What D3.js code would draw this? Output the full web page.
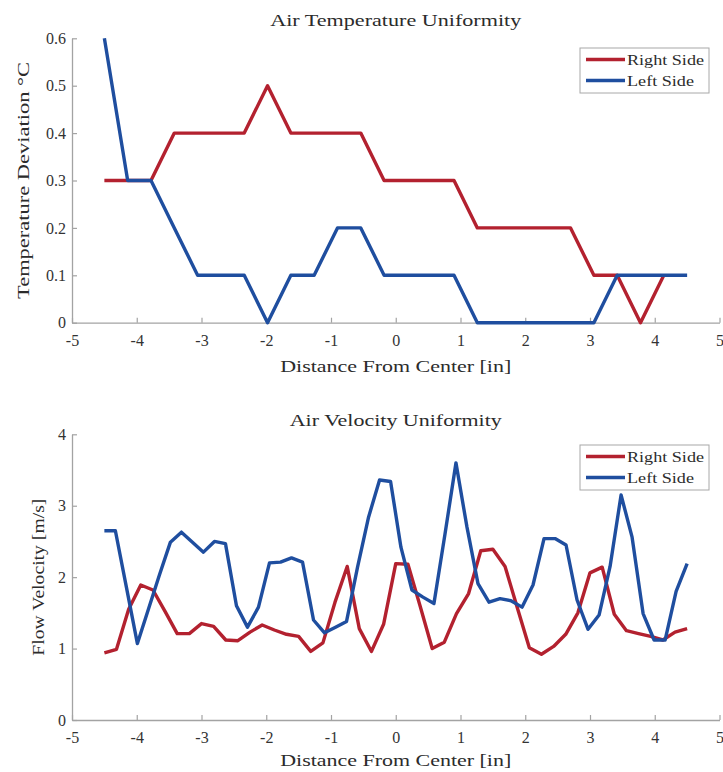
<!DOCTYPE html>
<html>
<head>
<meta charset="utf-8">
<script src="https://cdn.jsdelivr.net/npm/d3@7"></script>
<style>
  body { margin: 0; background: #fff; }
  text { font-family: "Liberation Serif", "Times New Roman", serif; fill: #2b2b2b; }
</style>
</head>
<body>
<svg id="chart" width="723" height="772"></svg>
<script>
// ---- data ----
const seriesNames = ["Right Side", "Left Side"];
const seriesColors = ["#b3212f", "#1f4e9f"];

// temperature survey positions [in]
const tempX = [-4.5, -4.14, -3.78, -3.42, -3.06, -2.7, -2.34, -1.98, -1.62, -1.26, -0.9, -0.54, -0.18,
               0.18, 0.54, 0.9, 1.26, 1.62, 1.98, 2.34, 2.7, 3.06, 3.42, 3.78, 4.14, 4.5];
// temperature deviation [°C]
const tempRight = [0.3, 0.3, 0.3, 0.4, 0.4, 0.4, 0.4, 0.5, 0.4, 0.4, 0.4, 0.4, 0.3,
                   0.3, 0.3, 0.3, 0.2, 0.2, 0.2, 0.2, 0.2, 0.1, 0.1, 0, 0.1];
const tempLeft  = [0.6, 0.3, 0.3, 0.2, 0.1, 0.1, 0.1, 0, 0.1, 0.1, 0.2, 0.2, 0.1,
                   0.1, 0.1, 0.1, 0, 0, 0, 0, 0, 0, 0.1, 0.1, 0.1, 0.1];

// velocity survey positions [in], right side
const velRightX = [-4.5, -4.313, -4.125, -3.938, -3.75, -3.563, -3.375, -3.188, -3, -2.813, -2.625, -2.438,
                   -2.25, -2.063, -1.875, -1.688, -1.5, -1.313, -1.125, -0.938, -0.75, -0.563, -0.375, -0.188,
                   0, 0.188, 0.375, 0.563, 0.75, 0.938, 1.125, 1.313, 1.5, 1.688, 1.875, 2.063,
                   2.25, 2.438, 2.625, 2.813, 3, 3.188, 3.375, 3.563, 3.75, 3.938, 4.125, 4.313, 4.5];
// flow velocity [m/s], right side
const velRight = [0.94, 0.99, 1.55, 1.89, 1.82, 1.52, 1.21, 1.21, 1.35, 1.31, 1.12, 1.11,
                  1.23, 1.33, 1.26, 1.20, 1.17, 0.96, 1.08, 1.65, 2.15, 1.28, 0.96, 1.34,
                  2.19, 2.18, 1.60, 1.00, 1.09, 1.49, 1.77, 2.37, 2.39, 2.15, 1.58, 1.01,
                  0.92, 1.03, 1.20, 1.50, 2.06, 2.14, 1.48, 1.25, 1.21, 1.17, 1.12, 1.23, 1.28];

// velocity survey positions [in], left side
const velLeftX = [-4.5, -4.33, -4.16, -3.99, -3.82, -3.65, -3.48, -3.31, -3.14, -2.97, -2.8, -2.63, -2.46,
                  -2.29, -2.12, -1.95, -1.78, -1.61, -1.44, -1.27, -1.1, -0.93, -0.76, -0.59, -0.42, -0.25,
                  -0.08, 0.08, 0.25, 0.42, 0.59, 0.76, 0.93, 1.1, 1.27, 1.44, 1.61, 1.78, 1.95,
                  2.12, 2.29, 2.46, 2.63, 2.8, 2.97, 3.14, 3.31, 3.48, 3.65, 3.82, 3.99, 4.16, 4.33, 4.5];
// flow velocity [m/s], left side
const velLeft = [2.65, 2.65, 1.86, 1.07, 1.55, 2.03, 2.49, 2.63, 2.49, 2.35, 2.50, 2.47, 1.60,
                 1.30, 1.58, 2.20, 2.21, 2.27, 2.21, 1.40, 1.22, 1.30, 1.38, 2.14, 2.84, 3.36,
                 3.34, 2.42, 1.82, 1.72, 1.63, 2.60, 3.60, 2.70, 1.91, 1.65, 1.70, 1.67, 1.58,
                 1.89, 2.54, 2.54, 2.45, 1.68, 1.27, 1.47, 2.15, 3.15, 2.56, 1.49, 1.12, 1.12, 1.80, 2.19];

const xTicks = [-5, -4, -3, -2, -1, 0, 1, 2, 3, 4, 5];
const tempTicks = [0, 0.1, 0.2, 0.3, 0.4, 0.5, 0.6];
const velTicks = [0, 1, 2, 3, 4];

// ---- layout ----
const svg = d3.select("#chart");
const serif = "'Liberation Serif', 'Times New Roman', serif";
const axisColor = "#a3a3a3";
const x = d3.scaleLinear().domain([-5, 5]).range([72, 719.5]);
const xMid = (x.range()[0] + x.range()[1]) / 2;

const panels = [
  {
    title: "Air Temperature Uniformity", titleY: 20, titleW: 251,
    xLabelY: 366, yLabel: "Temperature Deviation \u00B0C", yLabelX: 23, yLabelW: 237,
    y: d3.scaleLinear().domain([0, 0.6]).range([322.7, 38.3]),
    yTicks: tempTicks, yFmt: d => d === 0 ? "0" : d3.format(".1f")(d),
    series: [
      { xs: tempX.slice(0, tempRight.length), ys: tempRight },
      { xs: tempX, ys: tempLeft }
    ],
    legendTop: 48
  },
  {
    title: "Air Velocity Uniformity", titleY: 420, titleW: 212,
    xLabelY: 760, yLabel: "Flow Velocity [m/s]", yLabelX: 38, yLabelW: 157,
    y: d3.scaleLinear().domain([0, 4]).range([720, 434.3]),
    yTicks: velTicks, yFmt: d => String(d),
    series: [
      { xs: velRightX, ys: velRight },
      { xs: velLeftX, ys: velLeft }
    ],
    legendTop: 445
  }
];

panels.forEach(p => {
  const g = svg.append("g");
  const y0 = p.y.range()[0];

  // axes: left and bottom only, ticks pointing inward
  const xAxis = d3.axisBottom(x).tickValues(xTicks).tickFormat(d => String(d))
    .tickSizeInner(-5).tickSizeOuter(0).tickPadding(12);
  const gx = g.append("g").attr("transform", `translate(0,${y0})`).call(xAxis);

  const yAxis = d3.axisLeft(p.y).tickValues(p.yTicks).tickFormat(p.yFmt)
    .tickSizeInner(-5).tickSizeOuter(0).tickPadding(6);
  const gy = g.append("g").attr("transform", `translate(${x.range()[0]},0)`).call(yAxis);

  [gx, gy].forEach(a => {
    a.attr("font-family", null);
    a.select(".domain").attr("stroke", axisColor).attr("stroke-width", 1.3);
    a.selectAll(".tick line").attr("stroke", axisColor).attr("stroke-width", 1.2);
    a.selectAll(".tick text").attr("font-size", 16).style("fill", "#333")
      .style("font-family", serif);
  });

  // lines
  const line = d3.line().x(d => x(d[0])).y(d => p.y(d[1])).curve(d3.curveLinear);
  p.series.forEach((s, i) => {
    g.append("path")
      .datum(s.ys.map((v, k) => [s.xs[k], v]))
      .attr("fill", "none")
      .attr("stroke", seriesColors[i])
      .attr("stroke-width", 3.4)
      .attr("stroke-linejoin", "round")
      .attr("stroke-linecap", "butt")
      .attr("d", line);
  });

  // title and axis labels
  g.append("text").attr("x", xMid).attr("y", p.titleY)
    .attr("text-anchor", "middle").attr("dominant-baseline", "central")
    .attr("font-size", 17).attr("textLength", p.titleW).attr("lengthAdjust", "spacingAndGlyphs")
    .style("font-family", serif).text(p.title);

  g.append("text").attr("x", xMid).attr("y", p.xLabelY)
    .attr("text-anchor", "middle").attr("dominant-baseline", "central")
    .attr("font-size", 16).attr("textLength", 231).attr("lengthAdjust", "spacingAndGlyphs")
    .style("font-family", serif).text("Distance From Center [in]");

  const yMid = (p.y.range()[0] + p.y.range()[1]) / 2;
  g.append("text")
    .attr("transform", `translate(${p.yLabelX},${yMid}) rotate(-90)`)
    .attr("text-anchor", "middle").attr("dominant-baseline", "central")
    .attr("font-size", 16).attr("textLength", p.yLabelW).attr("lengthAdjust", "spacingAndGlyphs")
    .style("font-family", serif).text(p.yLabel);

  // legend
  const lg = g.append("g").attr("transform", `translate(580,${p.legendTop})`);
  lg.append("rect").attr("width", 129).attr("height", 45)
    .attr("fill", "#fff").attr("stroke", "#a8a8a8").attr("stroke-width", 1);
  seriesNames.forEach((name, i) => {
    const ry = 11.5 + i * 21;
    lg.append("line").attr("x1", 6).attr("x2", 45).attr("y1", ry).attr("y2", ry)
      .attr("stroke", seriesColors[i]).attr("stroke-width", 3.4);
    lg.append("text").attr("x", 47).attr("y", ry)
      .attr("dominant-baseline", "central").attr("font-size", 15)
      .attr("textLength", i === 0 ? 77 : 67).attr("lengthAdjust", "spacingAndGlyphs")
      .style("font-family", serif).text(name);
  });
});
</script>
</body>
</html>
